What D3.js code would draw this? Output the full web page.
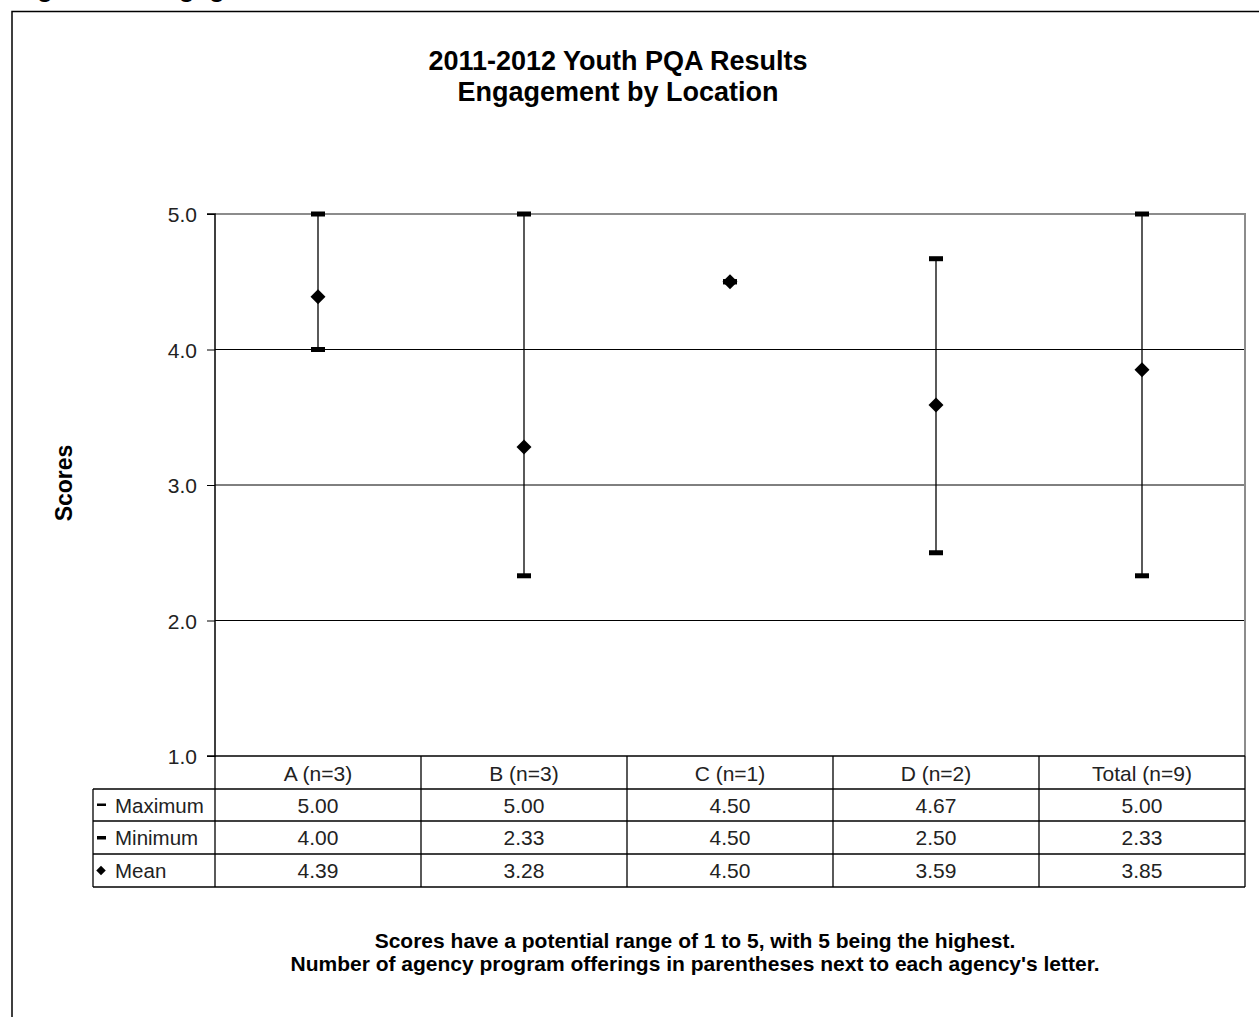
<!DOCTYPE html>
<html><head><meta charset="utf-8">
<script src="https://cdn.jsdelivr.net/npm/d3@7"></script>
<style>
html,body{margin:0;padding:0;background:#fff;}
svg{display:block;font-family:"Liberation Sans",Arial,sans-serif;}
</style></head>
<body>
<svg id="chart" width="1259" height="1017"></svg>
<script>
const categories = ["A (n=3)", "B (n=3)", "C (n=1)", "D (n=2)", "Total (n=9)"];
const maxValues = [5.00, 5.00, 4.50, 4.67, 5.00];
const minValues = [4.00, 2.33, 4.50, 2.50, 2.33];
const meanValues = [4.39, 3.28, 4.50, 3.59, 3.85];
const yTicks = [1, 2, 3, 4, 5];
const seriesNames = ["Maximum", "Minimum", "Mean"];
const titleLines = ["2011-2012 Youth PQA Results", "Engagement by Location"];
const yAxisTitle = "Scores";
const noteLines = ["Scores have a potential range of 1 to 5, with 5 being the highest.",
  "Number of agency program offerings in parentheses next to each agency's letter."];
const captionText = "Figure 12: Engagement";

const svg = d3.select("#chart");
const L = 215, R = 1245, T = 214, B = 756;
const x = d3.scaleBand().domain(categories).range([L, R]).padding(0);
const y = d3.scaleLinear().domain([1, 5]).range([B, T]);

// outer frame (extends beyond view on right/bottom)
svg.append("path").attr("d", `M12,1100 L12,11.5 L1300,11.5`).attr("fill", "none")
  .attr("stroke", "#000").attr("stroke-width", 1.5);
svg.append("text").attr("x", 14).attr("y", -3).attr("font-size", 26).attr("font-weight", "bold")
  .text(captionText);

// title
svg.append("g").selectAll("text").data(titleLines).join("text")
  .attr("x", 618).attr("y", (d, i) => 70 + i * 31).attr("text-anchor", "middle")
  .attr("font-size", 27).attr("font-weight", "bold").attr("fill", "#000").text(d => d);

// gridlines
svg.append("g").selectAll("line").data(yTicks.filter(t => t > 1 && t < 5)).join("line")
  .attr("x1", L).attr("x2", R).attr("y1", d => y(d)).attr("y2", d => y(d))
  .attr("stroke", "#000").attr("stroke-width", 1);
// plot border top/right gray
svg.append("path").attr("d", `M${L},${y(5)} L${R},${y(5)} L${R},${B}`)
  .attr("fill", "none").attr("stroke", "#8c8c8c").attr("stroke-width", 2);

// y axis
const yAxis = d3.axisLeft(y).tickValues(yTicks).tickFormat(d3.format(".1f")).tickSize(8).tickPadding(10);
const ya = svg.append("g").attr("transform", `translate(${L},0)`).call(yAxis);
ya.select(".domain").attr("stroke", "#000").attr("stroke-width", 1.5).attr("d", `M-8,${T}H0V${B}H-8`);
ya.selectAll(".tick line").attr("stroke", "#000");
ya.selectAll(".tick text").attr("font-size", 21).attr("fill", "#222").attr("dy", "0.36em")
  .attr("font-family", '"Liberation Sans",Arial,sans-serif');
svg.append("line").attr("x1", L).attr("x2", R).attr("y1", B).attr("y2", B).attr("stroke", "#000").attr("stroke-width", 1.5);

svg.append("text").attr("transform", `translate(72,483) rotate(-90)`).attr("text-anchor", "middle")
  .attr("font-size", 23).attr("font-weight", "bold").text(yAxisTitle);

// error bars
const cx = d => x(d) + x.bandwidth() / 2;
const g = svg.append("g");
categories.forEach((c, i) => {
  if (maxValues[i] !== minValues[i]) {
    g.append("line").attr("x1", cx(c)).attr("x2", cx(c)).attr("y1", y(maxValues[i])).attr("y2", y(minValues[i]))
      .attr("stroke", "#000").attr("stroke-width", 1.3);
  }
  [maxValues[i], minValues[i]].forEach(v => {
    g.append("rect").attr("x", cx(c) - 7).attr("y", y(v) - 2.5).attr("width", 14).attr("height", 5).attr("fill", "#000");
  });
});
g.selectAll("path.mean").data(categories).join("path").attr("class", "mean")
  .attr("transform", (d, i) => `translate(${cx(d)},${y(meanValues[i])}) rotate(45)`)
  .attr("d", d3.symbol().type(d3.symbolSquare).size(112)).attr("fill", "#000");

// data table
const rowTop = [B, 789, 821, 854, 887];
const baselines = [781, 813, 845, 878];
const tbl = svg.append("g");
const tableStroke = "#000";
const vx = categories.map(c => x(c)).concat([R]);
vx.forEach(vv => tbl.append("line").attr("x1", vv).attr("x2", vv).attr("y1", B).attr("y2", rowTop[4]).attr("stroke", tableStroke).attr("stroke-width", 1.3));
tbl.append("line").attr("x1", 93).attr("x2", 93).attr("y1", rowTop[1]).attr("y2", rowTop[4]).attr("stroke", tableStroke).attr("stroke-width", 1.3);
[1, 2, 3, 4].forEach(k => tbl.append("line").attr("x1", 93).attr("x2", R).attr("y1", rowTop[k]).attr("y2", rowTop[k]).attr("stroke", tableStroke).attr("stroke-width", 1.3));
tbl.selectAll("text.hdr").data(categories).join("text").attr("class", "hdr")
  .attr("x", d => cx(d)).attr("y", baselines[0]).attr("text-anchor", "middle")
  .attr("font-size", 21).attr("fill", "#222").text(d => d);
const rowsData = [maxValues, minValues, meanValues];
rowsData.forEach((vals, r) => {
  const yy = baselines[r + 1];
  tbl.append("g").selectAll("text").data(vals).join("text")
    .attr("x", (d, i) => cx(categories[i])).attr("y", yy).attr("text-anchor", "middle")
    .attr("font-size", 21).attr("fill", "#222").text(d => d3.format(".2f")(d));
  tbl.append("text").attr("x", 115).attr("y", yy).attr("font-size", 20.5).attr("fill", "#222").text(seriesNames[r]);
  const my = (rowTop[r + 1] + rowTop[r + 2]) / 2;
  if (r < 2) {
    tbl.append("rect").attr("x", 97).attr("y", my - 1.5).attr("width", 9).attr("height", r === 0 ? 2.5 : 3.5).attr("fill", "#000");
  } else {
    tbl.append("path").attr("transform", `translate(101,${my}) rotate(45)`)
      .attr("d", d3.symbol().type(d3.symbolSquare).size(45)).attr("fill", "#000");
  }
});

// footnote
svg.append("g").selectAll("text").data(noteLines).join("text")
  .attr("x", 695).attr("y", (d, i) => 948 + i * 23).attr("text-anchor", "middle")
  .attr("font-size", 21).attr("font-weight", "bold").text(d => d);
</script>
</body></html>
